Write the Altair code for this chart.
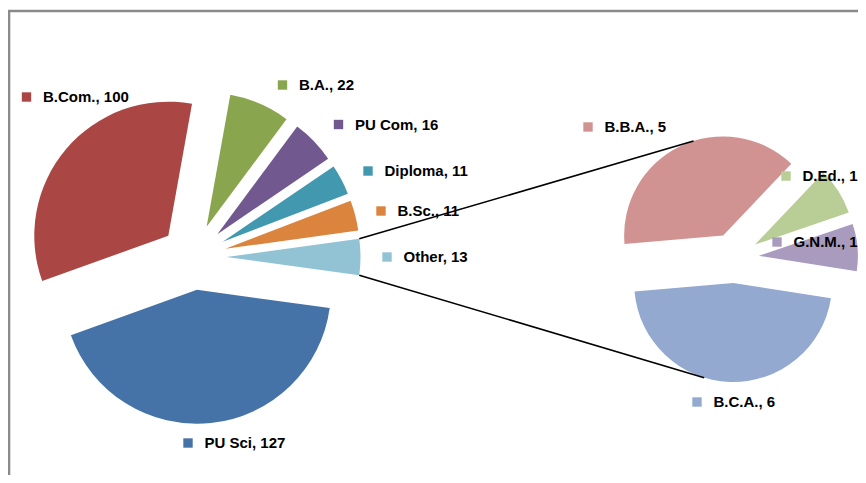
import math
import altair as alt
import pandas as pd

# ---------------- data ----------------
main_categories = ["PU Sci", "B.Com.", "B.A.", "PU Com", "Diploma", "B.Sc.", "Other"]
main_values = [127, 100, 22, 16, 11, 11, 13]
sub_categories = ["D.Ed.", "G.N.M.", "B.C.A.", "B.B.A."]
sub_values = [1, 1, 6, 5]

all_categories = main_categories + sub_categories
palette = ["#4572A7", "#AA4643", "#89A54E", "#71588F", "#4198AF", "#DB843D", "#91C3D5",
           "#B9CD96", "#A99BBD", "#93A9CF", "#D19392"]

# ---------------- layout (chart pixel coords; page = chart + 8) ----------------
W, H = 850, 467
MAIN_C = (185.5, 249.0)
MAIN_R, MAIN_D = 134, 33
SUB_C = (726.0, 250.0)
SUB_R, SUB_D = 99, 25
SUB_START = math.radians(43.5)
other_frac = main_values[-1] / sum(main_values)
MAIN_START = math.pi / 2 + math.pi * other_frac  # centres "Other" at 3 o'clock

label_pos = {  # marker centres (page coords)
    "B.Com.": (26.5, 97), "B.A.": (282.5, 85), "PU Com": (338.5, 124.5),
    "Diploma": (368, 171), "B.Sc.": (381, 211), "Other": (387, 257),
    "PU Sci": (188, 443), "B.B.A.": (588, 127), "D.Ed.": (786, 176),
    "G.N.M.": (777, 242), "B.C.A.": (697, 402),
}

color_scale = alt.Scale(domain=all_categories, range=palette)


def pie_layer(cats, vals, cx, cy, r, d, start):
    df = pd.DataFrame({"category": cats, "value": vals, "order": list(range(len(cats)))})
    return (
        alt.Chart(df)
        .transform_window(cum="sum(value)", sort=[alt.SortField("order")], frame=[None, 0])
        .transform_joinaggregate(total="sum(value)")
        .transform_calculate(
            t0=f"{start} + 2*PI*(datum.cum - datum.value)/datum.total",
            t1=f"{start} + 2*PI*datum.cum/datum.total",
        )
        .transform_calculate(mid="(datum.t0 + datum.t1)/2")
        .transform_calculate(
            px=f"{cx} + {d}*sin(datum.mid)",
            py=f"{cy} - {d}*cos(datum.mid)",
        )
        .mark_arc(radius=r)
        .encode(
            x=alt.X("px:Q", scale=None),
            y=alt.Y("py:Q", scale=None),
            theta=alt.Theta("t0:Q", scale=None),
            theta2="t1:Q",
            color=alt.Color("category:N", scale=color_scale, legend=None),
        )
    )


main_pie = pie_layer(main_categories, main_values, MAIN_C[0], MAIN_C[1], MAIN_R, MAIN_D, MAIN_START)
sub_pie = pie_layer(sub_categories, sub_values, SUB_C[0], SUB_C[1], SUB_R, SUB_D, SUB_START)

# ---------------- connector lines (derived from slice geometry) ----------------
tot = sum(main_values)
o0 = MAIN_START + 2 * math.pi * (tot - main_values[-1]) / tot
o1 = MAIN_START + 2 * math.pi
omid = (o0 + o1) / 2
ax, ay = MAIN_C[0] + MAIN_D * math.sin(omid), MAIN_C[1] - MAIN_D * math.cos(omid)
p_top = (ax + MAIN_R * math.sin(o0), ay - MAIN_R * math.cos(o0))
p_bot = (ax + MAIN_R * math.sin(o1), ay - MAIN_R * math.cos(o1))

stot = sum(sub_values)
cum = 0
sub_mid = {}
for c, v in zip(sub_categories, sub_values):
    a0 = SUB_START + 2 * math.pi * cum / stot
    cum += v
    a1 = SUB_START + 2 * math.pi * cum / stot
    sub_mid[c] = (a0 + a1) / 2


def sub_point(cat, ang_deg):
    m = sub_mid[cat]
    bx, by = SUB_C[0] + SUB_D * math.sin(m), SUB_C[1] - SUB_D * math.cos(m)
    a = math.radians(ang_deg)
    return (bx + SUB_R * math.sin(a), by - SUB_R * math.cos(a))


q_top = sub_point("B.B.A.", 342.6)
q_bot = sub_point("B.C.A.", 197.0)

lines_df = pd.DataFrame({
    "x1": [p_top[0], p_bot[0]], "y1": [p_top[1], p_bot[1]],
    "x2": [q_top[0], q_bot[0]], "y2": [q_top[1], q_bot[1]],
})
connectors = alt.Chart(lines_df).mark_rule(color="black", strokeWidth=1.6).encode(
    x=alt.X("x1:Q", scale=None), y=alt.Y("y1:Q", scale=None),
    x2="x2:Q", y2="y2:Q",
)

# ---------------- labels ----------------
lab_df = pd.DataFrame({
    "category": all_categories,
    "value": main_values + sub_values,
    "mx": [label_pos[c][0] - 8 for c in all_categories],
    "my": [label_pos[c][1] - 8 for c in all_categories],
})
lab_base = alt.Chart(lab_df).transform_calculate(
    label="datum.category + ', ' + datum.value",
    tx="datum.mx + 16.5",
)
markers = lab_base.mark_square(size=88, opacity=1).encode(
    x=alt.X("mx:Q", scale=None), y=alt.Y("my:Q", scale=None),
    color=alt.Color("category:N", scale=color_scale, legend=None),
)
texts = lab_base.mark_text(
    align="left", baseline="middle", font="Liberation Sans", fontWeight="bold",
    fontSize=15, color="black",
).encode(
    x=alt.X("tx:Q", scale=None), y=alt.Y("my:Q", scale=None), text="label:N",
)

# ---------------- frame ----------------
frame = alt.Chart(pd.DataFrame({"a": [0]})).mark_rect(
    fillOpacity=0, stroke="#8a8a8a", strokeWidth=2.6
).encode(
    x=alt.value(1), x2=alt.value(1200), y=alt.value(3), y2=alt.value(1200),
)

chart = (
    alt.layer(frame, main_pie, sub_pie, markers, texts, connectors)
    .properties(width=W, height=H, padding=0, autosize=alt.AutoSizeParams(type="none"))
    .configure_view(strokeWidth=0)
)

chart.save("out.html", embed_options={"renderer": "svg", "actions": False})
